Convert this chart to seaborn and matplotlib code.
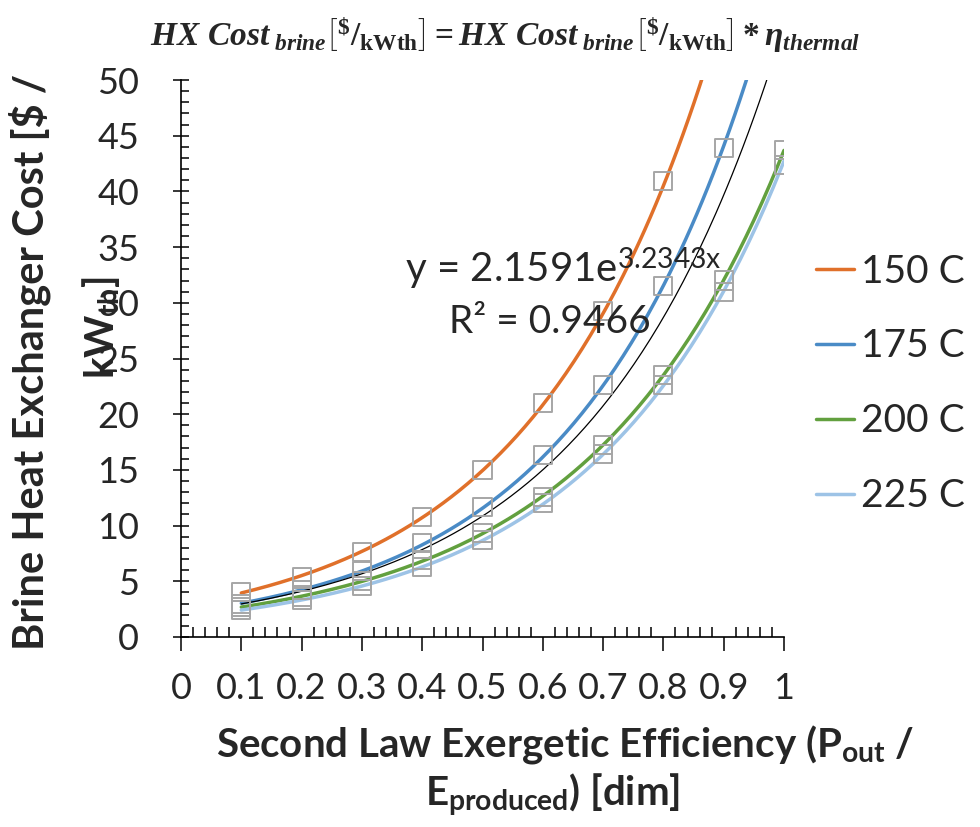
import numpy as np
import pandas as pd
import matplotlib
matplotlib.use("Agg")
import matplotlib.pyplot as plt
import seaborn as sns
from matplotlib.ticker import MultipleLocator, FuncFormatter

# ---- data ----
efficiency = [0.1, 0.2, 0.3, 0.4, 0.5, 0.6, 0.7, 0.8, 0.9, 1.0]
cost_150 = [4.0, 5.4, 7.6, 10.8, 15.0, 21.0, 29.3, 40.9, 56.0, 78.0]
cost_175 = [3.0, 4.2, 5.9, 8.4, 11.7, 16.3, 22.6, 31.5, 43.9, 61.0]
cost_200 = [2.7, 3.6, 5.0, 6.9, 9.3, 12.6, 17.2, 23.5, 32.0, 43.7]
cost_225 = [2.4, 3.3, 4.6, 6.3, 8.7, 12.0, 16.4, 22.6, 31.0, 42.4]
series_names = ["150 C", "175 C", "200 C", "225 C"]
series_colors = ["#E0702A", "#4A8BC6", "#62A03F", "#9DC3E6"]
y_ticks = [0, 5, 10, 15, 20, 25, 30, 35, 40, 45, 50]
x_ticks = [0, 0.1, 0.2, 0.3, 0.4, 0.5, 0.6, 0.7, 0.8, 0.9, 1.0]
eq_text = "y = 2.1591e$^{\\mathregular{3.2343x}}$"
r2_text = "R² = 0.9466"

sns.set_style("ticks")
plt.rcParams["font.family"] = ["Lato", "DejaVu Sans"]
plt.rcParams["mathtext.fontset"] = "custom"
plt.rcParams["mathtext.it"] = "Liberation Serif:italic:bold"
plt.rcParams["mathtext.rm"] = "Liberation Serif:bold"
plt.rcParams["mathtext.bf"] = "Liberation Serif:bold"

rows = []
for name, vals in zip(series_names, [cost_150, cost_175, cost_200, cost_225]):
    for x, y in zip(efficiency, vals):
        rows.append({"eff": x, "cost": y, "series": name})
df = pd.DataFrame(rows)

# exponential trendlines fitted from the data
xs = np.linspace(min(efficiency), max(efficiency), 200)
trend_rows = []
for name in series_names:
    sub = df[df.series == name]
    b, lna = np.polyfit(sub.eff, np.log(sub.cost), 1)
    for x in xs:
        trend_rows.append({"eff": x, "cost": np.exp(lna) * np.exp(b * x), "series": name})
trend = pd.DataFrame(trend_rows)
b_all, lna_all = np.polyfit(df.eff, np.log(df.cost), 1)
overall = pd.DataFrame({"eff": xs, "cost": np.exp(lna_all) * np.exp(b_all * xs)})

fig = plt.figure(figsize=(9.8, 8.27), dpi=100)
ax = fig.add_axes([181 / 980, 1 - 637 / 827, (784 - 181) / 980, (637 - 80) / 827])

sns.lineplot(data=trend, x="eff", y="cost", hue="series", palette=series_colors,
             hue_order=series_names, linewidth=2.5, ax=ax, legend=True)
sns.lineplot(data=overall, x="eff", y="cost", color="black", linewidth=0.9, ax=ax, legend=False)
sns.scatterplot(data=df, x="eff", y="cost", marker="s", s=170, facecolor="none",
                edgecolor="#A6A6A6", linewidth=1.4, ax=ax, legend=False, zorder=3)

ax.set_xlim(0, 1)
ax.set_ylim(0, 50)
ax.set_xticks(x_ticks)
ax.set_yticks(y_ticks)
ax.xaxis.set_minor_locator(MultipleLocator(0.02))
ax.yaxis.set_minor_locator(MultipleLocator(1))
ax.xaxis.set_major_formatter(FuncFormatter(lambda v, p: f"{v:g}"))
ax.set_xlabel("")
ax.set_ylabel("")
for s in ["top", "right"]:
    ax.spines[s].set_visible(False)
for s in ["left", "bottom"]:
    ax.spines[s].set_color("black")
    ax.spines[s].set_linewidth(1.2)
ax.tick_params(axis="x", which="major", direction="out", length=10, width=1.1,
               labelsize=26, pad=15, color="black", bottom=True)
ax.tick_params(axis="x", which="minor", direction="in", length=7, width=1.1,
               color="black", bottom=True)
ax.tick_params(axis="y", which="major", direction="inout", length=12, width=1.1,
               labelsize=26, pad=24, color="black", left=True)
ax.tick_params(axis="y", which="minor", direction="in", length=6, width=1.1,
               color="black", left=True)

# legend
handles, labels = ax.get_legend_handles_labels()
ax.legend(handles, labels, loc="upper left", bbox_to_anchor=(800 / 980, 1 - 238 / 827),
          bbox_transform=fig.transFigure, frameon=False, fontsize=28,
          handlelength=1.0, handletextpad=0.18, labelspacing=1.0, borderaxespad=0)

# trendline equation
fig.text(563 / 980, 1 - 268 / 827, eq_text, fontsize=29, ha="center", va="center")
fig.text(550 / 980, 1 - 322 / 827, r2_text, fontsize=28, ha="center", va="center")

# title (equation)
title = (r"$HX\ Cost_{\ brine}\left[{}^{\$}/_{\mathbf{kWth}}\right] = "
         r"HX\ Cost_{\ brine}\left[{}^{\$}/_{\mathbf{kWth}}\right] * \eta_{thermal}$")
fig.text(505 / 980, 1 - 35 / 827, title, fontsize=24, ha="center", va="center")

# axis titles
fig.text(30 / 980, 1 - 362 / 827, "Brine Heat Exchanger Cost [\\$ /", rotation=90,
         fontsize=30, fontweight="bold", ha="center", va="center")
fig.text(101 / 980, 1 - 328 / 827, "kW$_{\\mathregular{th}}$]", rotation=90,
         fontsize=29, fontweight="bold", ha="center", va="center")
fig.text(565 / 980, 1 - 745 / 827, "Second Law Exergetic Efficiency (P$_{\\mathregular{out}}$ /",
         fontsize=29, fontweight="bold", ha="center", va="center")
fig.text(553 / 980, 1 - 795 / 827, "E$_{\\mathregular{produced}}$) [dim]",
         fontsize=29, fontweight="bold", ha="center", va="center")

fig.savefig("out.png", dpi=100)
